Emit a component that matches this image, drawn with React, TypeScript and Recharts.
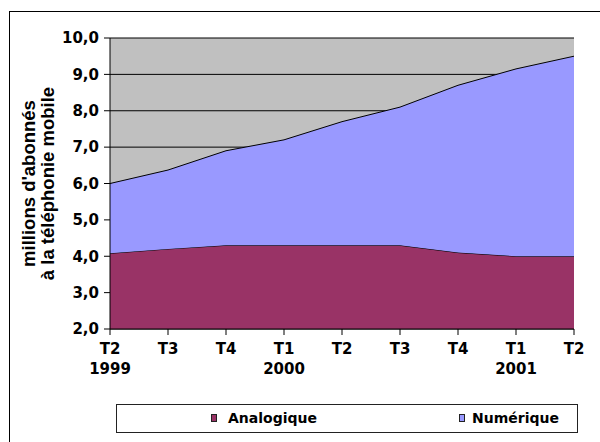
import React from "react";
import {
  AreaChart,
  Area,
  XAxis,
  YAxis,
  CartesianGrid,
  Legend,
} from "recharts";

const QUARTERS = ["T2", "T3", "T4", "T1", "T2", "T3", "T4", "T1", "T2"];
const YEARS = ["1999", "", "", "2000", "", "", "", "2001", ""];
const ANALOGIQUE = [4.08, 4.2, 4.3, 4.3, 4.3, 4.3, 4.1, 4.0, 4.0];
const NUMERIQUE = [1.92, 2.17, 2.6, 2.9, 3.4, 3.8, 4.6, 5.15, 5.5];
const Y_TICKS = [2, 3, 4, 5, 6, 7, 8, 9, 10];

const FILLS: Record<string, string> = {
  Analogique: "#993366",
  "Numérique": "#9999ff",
};

const data = QUARTERS.map((q, i) => ({
  key: i,
  quarter: q,
  year: YEARS[i],
  Analogique: ANALOGIQUE[i],
  "Numérique": NUMERIQUE[i],
}));

const FONT = "'DejaVu Sans', sans-serif";
const TITLE_FONT = "'Liberation Sans', Arial, sans-serif";

const QuarterTick = ({ x, y, payload }: any) => {
  const d = data[payload.value];
  return (
    <g transform={`translate(${x},${y})`}>
      <text textAnchor="middle" fontFamily={FONT} fontWeight="bold" fontSize={15} fill="#000">
        <tspan x={0} dy={17}>{d.quarter}</tspan>
        {d.year && <tspan x={0} dy={20}>{d.year}</tspan>}
      </text>
    </g>
  );
};

const AxisTitle = ({ viewBox }: any) => {
  const cy = viewBox.y + viewBox.height / 2;
  return (
    <text
      transform={`translate(0,${cy}) rotate(-90)`}
      textAnchor="middle"
      fontFamily={TITLE_FONT}
      fontWeight="bold"
      fontSize={18.5}
      fill="#000"
    >
      <tspan x={0} y={35}>millions d'abonnés</tspan>
      <tspan x={0} y={54}>à la téléphonie mobile</tspan>
    </text>
  );
};

const LegendBox = ({ payload }: any) => (
  <div
    style={{
      position: "relative",
      width: 460,
      height: 27,
      border: "1px solid #222",
      background: "#fff",
      fontFamily: FONT,
      fontWeight: "bold",
      fontSize: 14,
    }}
  >
    {(payload || []).map((p: any, i: number) => (
      <div
        key={p.value}
        style={{
          position: "absolute",
          left: i === 0 ? 94 : 342,
          top: 5,
          display: "flex",
          alignItems: "center",
        }}
      >
        <span
          style={{
            display: "inline-block",
            width: 4,
            height: 6,
            background: FILLS[p.value],
            border: "1px solid #222",
            marginRight: i === 0 ? 11 : 7,
          }}
        />
        <span>{p.value}</span>
      </div>
    ))}
  </div>
);

export default function App() {
  return (
    <div style={{ position: "absolute", left: 0, top: 0, width: 600, height: 442, background: "#fff", overflow: "hidden" }}>
      <div
        style={{
          position: "absolute",
          left: 9,
          top: 11,
          width: 620,
          height: 460,
          border: "1px solid #000",
        }}
      />
      <AreaChart
        width={600}
        height={442}
        data={data}
        margin={{ top: 38, right: 26, bottom: 73, left: 40 }}
        style={{ position: "absolute", left: 0, top: 0 }}
      >
        <CartesianGrid
          vertical={false}
          stroke="#000"
          fill="#c0c0c0"
          fillOpacity={1}
          horizontalValues={Y_TICKS}
        />
        <XAxis
          dataKey="key"
          type="category"
          axisLine={{ stroke: "#000" }}
          tickLine={{ stroke: "#000" }}
          tickSize={6}
          height={40}
          interval={0}
          tick={<QuarterTick />}
        />
        <XAxis xAxisId="top" orientation="top" dataKey="key" height={0} tick={false} tickLine={false} axisLine={{ stroke: "#808080" }} />
        <YAxis
          domain={[2, 10]}
          ticks={Y_TICKS}
          allowDataOverflow
          width={70}
          axisLine={{ stroke: "#000" }}
          tickLine={{ stroke: "#000" }}
          tickSize={6}
          tickMargin={5}
          tick={{ fontFamily: FONT, fontWeight: "bold", fontSize: 15, fill: "#000" }}
          tickFormatter={(v: number) => v.toFixed(1).replace(".", ",")}
          label={<AxisTitle />}
        />
        <YAxis yAxisId="right" orientation="right" width={0} tick={false} tickLine={false} axisLine={{ stroke: "#808080" }} />
        <Area
          type="linear"
          dataKey="Analogique"
          stackId="1"
          stroke="#000"
          strokeWidth={1}
          fill={FILLS.Analogique}
          fillOpacity={1}
          isAnimationActive={false}
        />
        <Area
          type="linear"
          dataKey="Numérique"
          stackId="1"
          stroke="#000"
          strokeWidth={1}
          fill={FILLS["Numérique"]}
          fillOpacity={1}
          isAnimationActive={false}
        />
        <Legend
          layout="horizontal"
          verticalAlign="middle"
          align="center"
          wrapperStyle={{ left: 116, top: 404, width: 462, height: 29 }}
          content={<LegendBox />}
        />
      </AreaChart>
    </div>
  );
}
